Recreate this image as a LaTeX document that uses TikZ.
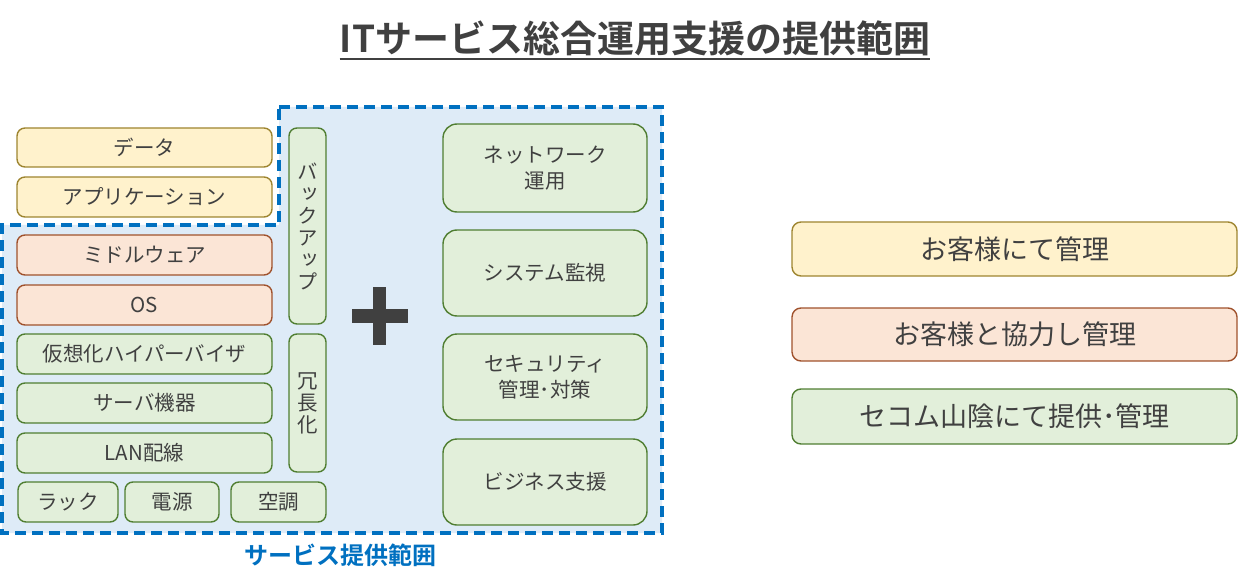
\documentclass[tikz,border=0pt]{standalone}
\usepackage{fontspec}
\setmainfont{Noto Sans CJK JP}[BoldFont={Noto Sans CJK JP Bold}]
\newfontfamily\vjp[RawFeature=+vert]{Noto Sans CJK JP}
\definecolor{txt}{HTML}{404040}
\definecolor{yfill}{HTML}{FFF2CC}
\definecolor{ydraw}{HTML}{9E8530}
\definecolor{ofill}{HTML}{FBE5D6}
\definecolor{odraw}{HTML}{A0522D}
\definecolor{gfill}{HTML}{E2EFDA}
\definecolor{gdraw}{HTML}{507E32}
\definecolor{region}{HTML}{DEEBF7}
\definecolor{regblue}{HTML}{0070C0}
\tikzset{
  base/.style={rounded corners=8, line width=1.4, text=txt, inner sep=0, align=center,
    font=\fontsize{20.5}{26}\selectfont},
  ybox/.style={base, fill=yfill, draw=ydraw},
  obox/.style={base, fill=ofill, draw=odraw},
  gbox/.style={base, fill=gfill, draw=gdraw},
  bigbox/.style={gbox, rounded corners=14},
  vbox/.style={gbox, font=\vjp\fontsize{20.5}{22}\selectfont},
  legbox/.style={base, rounded corners=9, font=\fontsize{27}{30}\selectfont},
}
\newcommand{\bx}[7]{\node[#2, minimum width={(#5-#3)*1pt}, minimum height={(#6-#4)*1pt}] (#1) at ({(#3+#5)/2},{(#4+#6)/2+1}) {#7};}
\begin{document}
\begin{tikzpicture}[x=1pt,y=-1pt]
\useasboundingbox (0,0) rectangle (1238,585);
% title
\node[font=\bfseries\fontsize{37}{40}\selectfont, text=txt, inner sep=0] (title) at (635,38) {ITサービス総合運用支援の提供範囲};
\draw[txt, line width=2.2] ([yshift=-7pt]title.base west) -- ([yshift=-7pt]title.base east);
% service region
\fill[region] (279,107) -- (662,107) -- (662,533) -- (2,533) -- (2,225) -- (279,225) -- cycle;
\draw[regblue, line width=4, dash pattern=on 11 off 6] (279,107) -- (662,107) -- (662,533) -- (2,533) -- (2,225) -- (279,225) -- cycle;
\node[font=\bfseries\fontsize{24}{26}\selectfont, text=regblue, inner sep=0] (lbl) at (340,555) {サービス提供範囲};
% left stack
\bx{data}{ybox}{17}{127}{272}{166}{データ}
\bx{app}{ybox}{17}{176}{272}{216}{アプリケーション}
\bx{mw}{obox}{17}{234}{272}{274}{ミドルウェア}
\bx{os}{obox}{17}{284}{272}{324}{OS}
\bx{hv}{gbox}{17}{333}{272}{373}{仮想化ハイパーバイザ}
\bx{srv}{gbox}{17}{382}{272}{422}{サーバ機器}
\bx{lan}{gbox}{17}{432}{272}{472}{LAN配線}
\bx{rack}{gbox}{18}{481}{118}{521}{ラック}
\bx{pow}{gbox}{125}{481}{219}{521}{電源}
\bx{ac}{gbox}{231}{481}{326}{521}{空調}
\bx{bk}{vbox}{289}{127}{326}{323}{バ\\ッ\\ク\\ア\\ッ\\プ}
\bx{red}{vbox}{289}{333}{326}{471}{冗\\長\\化}
% plus
\fill[txt] (352,309) rectangle (408,323);
\fill[txt] (373,287) rectangle (386,345);
% right services
\bx{net}{bigbox}{443}{123}{647}{211}{ネットワーク\\運用}
\bx{mon}{bigbox}{443}{229}{647}{315}{システム監視}
\bx{sec}{bigbox}{443}{333}{647}{419}{セキュリティ\\管理･対策}
\bx{biz}{bigbox}{443}{438}{647}{524}{ビジネス支援}
% legend
\bx{l1}{legbox, fill=yfill, draw=ydraw}{792}{221}{1237}{275}{お客様にて管理}
\bx{l2}{legbox, fill=ofill, draw=odraw}{792}{307}{1237}{360}{お客様と協力し管理}
\bx{l3}{legbox, fill=gfill, draw=gdraw}{792}{388}{1237}{443}{セコム山陰にて提供･管理}
\end{tikzpicture}
\end{document}
